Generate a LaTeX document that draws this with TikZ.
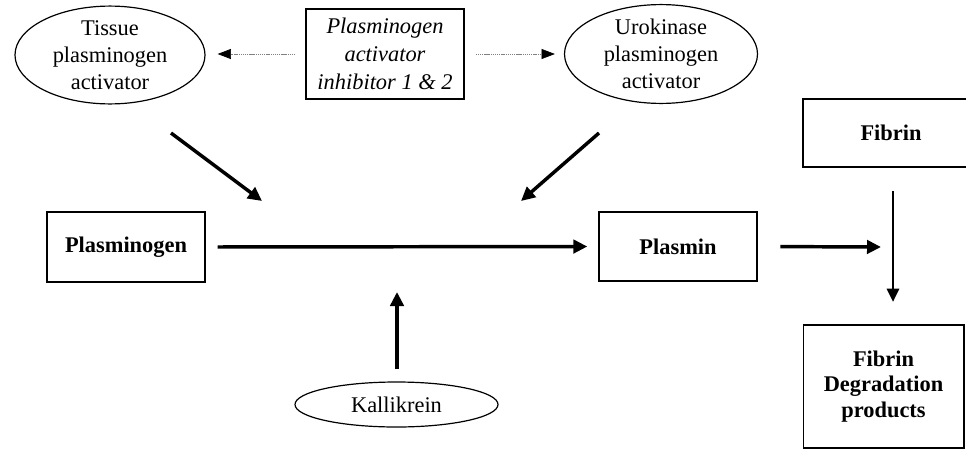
\documentclass[tikz,border=0pt]{standalone}
\usepackage{fontspec}
\setmainfont{Liberation Serif}
\usetikzlibrary{shapes.geometric,arrows.meta,calc}
\begin{document}
\begin{tikzpicture}[x=0.75pt,y=-0.75pt,
  lbl/.style={font=\fontsize{16.8}{20.3}\selectfont, align=center, inner sep=0pt},
  oval/.style={lbl, ellipse, draw, line width=0.9pt},
  boxn/.style={lbl, rectangle, draw, line width=1pt},
  bx/.style={boxn, font=\fontsize{16.8}{19}\selectfont\bfseries},
  thick arr/.style={line width=2.6pt, -{Triangle[length=10.5pt,width=10pt]}},
  dot arr/.style={gray, line width=0.5pt, dash pattern=on 1pt off 0.6pt, -{Triangle[length=10pt,width=7.5pt,color=black]}}
]
\useasboundingbox (0,0) rectangle (966,450);
\clip (0,0) rectangle (966,450);

% nodes
\node[oval, minimum width=142.5pt, minimum height=69pt] (tpa) at (110,55) {Tissue\\plasminogen\\activator};
\node[oval, minimum width=144.75pt, minimum height=69pt] (upa) at (661,54) {Urokinase\\plasminogen\\activator};
\node[boxn, minimum width=118.5pt, minimum height=67.5pt, font=\fontsize{16.8}{20.8}\selectfont\itshape] (pai) at (385,54) {Plasminogen\\activator\\inhibitor 1 \& 2};
\node[bx, minimum width=118.5pt, minimum height=52.5pt] (plg) at (126,247) {Plasminogen};
\node[bx, minimum width=118.5pt, minimum height=51.75pt] (plm) at (678,246.5) {Plasmin};
\node[bx, minimum width=132pt, minimum height=51pt] (fib) at (891,133) {Fibrin};
\node[bx, minimum width=120.5pt, minimum height=92.25pt] (fdp) at (883.5,386.5) {Fibrin\\Degradation\\products};
\node[oval, minimum width=152.25pt, minimum height=33.75pt] (kal) at (396.5,404.5) {Kallikrein};

% free ends
\coordinate (a1s) at (171,133);
\coordinate (a1e) at (262,201);
\coordinate (a2s) at (599,133);
\coordinate (a2e) at (521,201);
\coordinate (ktip) at (397,292);
\coordinate (ptip) at (881,247);
\coordinate (vtop) at (893,191);
\coordinate (vbot) at (893,302);

% connectors
\draw[dot arr, shorten <=7.5pt, shorten >=9pt] (pai.west) -- (pai.west -| tpa.east);
\draw[dot arr, shorten <=8.25pt, shorten >=6.75pt] (pai.east) -- (pai.east -| upa.west);
\draw[thick arr] (a1s) -- (a1e);
\draw[thick arr] (a2s) -- (a2e);
\draw[thick arr, shorten <=9pt, shorten >=8.25pt] (plg.east) -- (plm.west);
\draw[thick arr, shorten <=17pt] (plm.east) -- (ptip);
\draw[line width=2.2pt, -{Triangle[length=10pt,width=9pt]}] (vtop) -- (vbot);
\draw[thick arr, shorten <=9pt] (kal.north -| ktip) -- (ktip);
\end{tikzpicture}
\end{document}
